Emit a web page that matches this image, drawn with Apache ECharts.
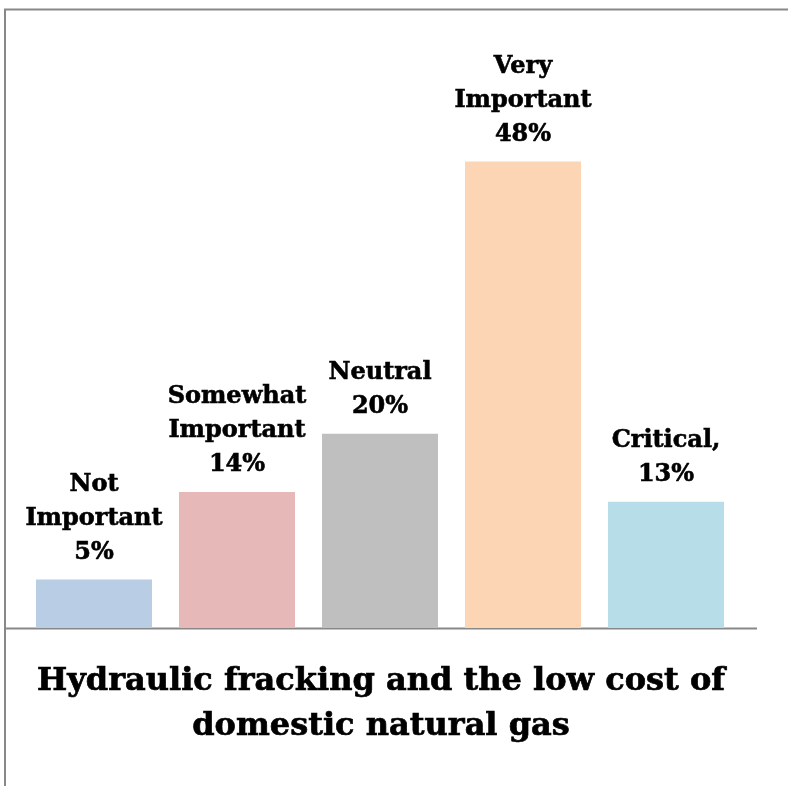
<!DOCTYPE html>
<html>
<head>
<meta charset="utf-8">
<script src="https://cdn.jsdelivr.net/npm/echarts@6/dist/echarts.min.js"></script>
<style>
  html, body { margin: 0; padding: 0; background: #fff; }
  #main { width: 788px; height: 786px; }
</style>
</head>
<body>
<div id="main"></div>
<script>
// data
const categories = ['Not\nImportant', 'Somewhat\nImportant', 'Neutral', 'Very\nImportant', 'Critical,'];
const values = [5, 14, 20, 48, 13];
const barColors = ['#b9cde5', '#e6b9b8', '#bfbfbf', '#fcd5b5', '#b7dee8'];
const titleLines = ['Hydraulic fracking and the low cost of', 'domestic natural gas'];

const chart = echarts.init(document.getElementById('main'));

const option = {
  animation: false,
  backgroundColor: '#fff',
  grid: { left: 22.5, right: 50.5, top: 45, bottom: 158 },
  xAxis: {
    type: 'category',
    data: categories,
    axisLine: { show: false },
    axisTick: { show: false },
    axisLabel: { show: false }
  },
  yAxis: {
    type: 'value',
    min: 0,
    max: 60,
    show: false,
    splitLine: { show: false }
  },
  series: [{
    type: 'bar',
    barWidth: 116,
    data: values.map((v, i) => ({ value: v, itemStyle: { color: barColors[i] } })),
    label: {
      show: true,
      position: 'top',
      distance: 10,
      fontFamily: 'DejaVu Serif',
      fontWeight: 'bold',
      fontSize: 24,
      lineHeight: 34,
      color: '#000',
      textBorderColor: '#000',
      textBorderWidth: 0.6,
      align: 'center',
      formatter: p => p.name + '\n' + p.value + '%'
    }
  }],
  graphic: [
    // frame lines
    { type: 'line', shape: { x1: 4, y1: 9.5, x2: 788, y2: 9.5 }, style: { stroke: '#888', lineWidth: 2 } },
    { type: 'line', shape: { x1: 5, y1: 9, x2: 5, y2: 786 }, style: { stroke: '#888', lineWidth: 2 } },
    // baseline
    { type: 'line', shape: { x1: 5, y1: 628.5, x2: 757, y2: 628.5 }, style: { stroke: '#888', lineWidth: 2 } },
    {
      type: 'text',
      x: 381,
      y: 659,
      style: {
        text: titleLines.join('\n'),
        fontFamily: 'DejaVu Serif',
        fontWeight: 'bold',
        fontSize: 32,
        lineHeight: 45,
        fill: '#000',
        stroke: '#000',
        lineWidth: 0.7,
        align: 'center',
        verticalAlign: 'top'
      }
    }
  ]
};

chart.setOption(option);
</script>
</body>
</html>
